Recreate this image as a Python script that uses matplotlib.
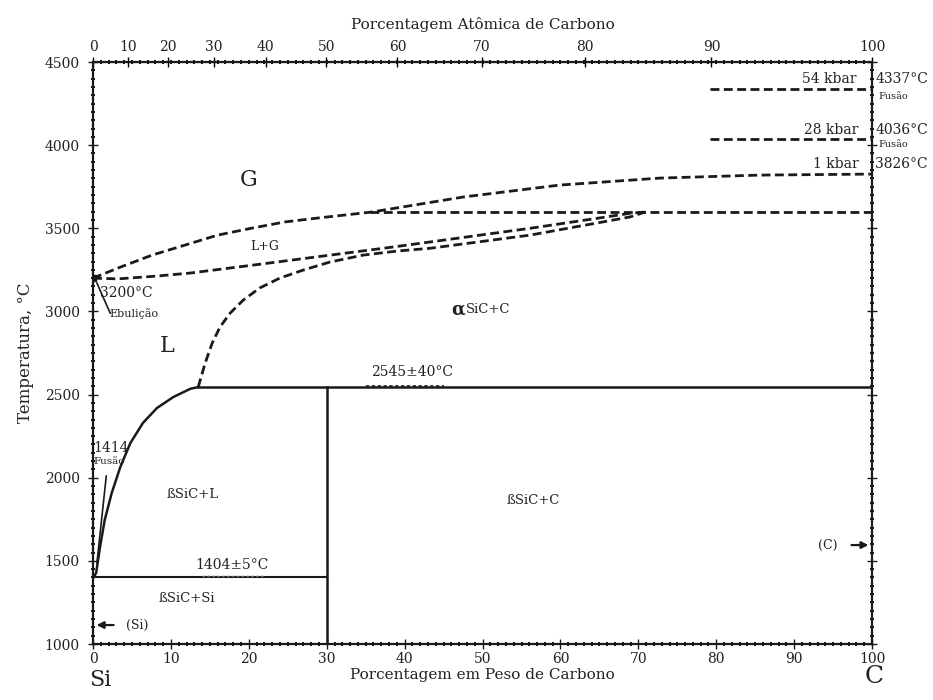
import numpy as np
import matplotlib
matplotlib.use('Agg')
import matplotlib.pyplot as plt
from matplotlib.ticker import MultipleLocator, FixedLocator

plt.rcParams['font.family'] = ['DejaVu Serif']
plt.rcParams['mathtext.fontset'] = 'dejavuserif'

# liquidus Si side (solid): wt% C, temperature
liq_si_x = [0.1, 0.4, 0.9, 1.5, 2.4, 3.5, 4.8, 6.4, 8.2, 10.3, 12.5, 13.5]
liq_si_t = [1404, 1427, 1583, 1746, 1908, 2064, 2209, 2329, 2419, 2485, 2535, 2545]

# liquidus SiC + L (dashed)
liq_sic_x = [13.5, 14.4, 15.3, 16.3, 17.6, 19.3, 21.4, 24.0, 27.0, 30.4, 34.7,
             39.0, 43.3, 56.1, 64.7, 68.9, 70.9]
liq_sic_t = [2545, 2690, 2810, 2906, 2990, 3069, 3141, 3201, 3249, 3297, 3339,
             3363, 3380, 3459, 3532, 3568, 3598]

# lower boundary of L+G
lg_low_x = [0, 3.2, 8.0, 12.5, 21.1, 29.5, 38.1, 43.3, 56.1, 64.7, 68.9, 70.9]
lg_low_t = [3200, 3196, 3212, 3231, 3282, 3333, 3385, 3418, 3500, 3560, 3590, 3598]

# upper boundary of L+G / 1 kbar curve
lg_up_x = [0, 3.2, 7.6, 11.8, 16.0, 20.4, 24.6, 28.9, 35.8, 47.5, 59.9, 72.8, 85.6, 100]
lg_up_t = [3200, 3261, 3339, 3399, 3459, 3501, 3538, 3562, 3598, 3688, 3760, 3802, 3820, 3826]

# horizontal lines
t_peritectic = 2545
t_eutectic = 1404
t_three = 3600
x_sic = 30
kbar_x = [79.2, 100]
kbar_t = [4337, 4036]

fig = plt.figure(figsize=(9.33, 7.0), dpi=100)
ax = fig.add_axes([0.0997, 0.08, 0.835, 0.8314])
k = '#1a1a1a'
dash = (3.2, 1.6)

ax.plot(liq_si_x, liq_si_t, color=k, lw=1.8)
ax.plot(liq_sic_x, liq_sic_t, color=k, lw=2.0, ls=(0, dash))
ax.plot(lg_low_x, lg_low_t, color=k, lw=2.0, ls=(0, dash))
ax.plot(lg_up_x, lg_up_t, color=k, lw=2.0, ls=(0, dash))
ax.plot([35.5, 100], [t_three, t_three], color=k, lw=2.0, ls=(0, dash))
for t in kbar_t:
    ax.plot(kbar_x, [t, t], color=k, lw=2.0, ls=(0, dash))

ax.plot([13.5, 100], [t_peritectic, t_peritectic], color=k, lw=1.8)
ax.plot([0, x_sic], [t_eutectic, t_eutectic], color=k, lw=1.5)
ax.plot([x_sic, x_sic], [1000, t_peritectic], color=k, lw=1.8)
ax.plot([35, 45], [t_peritectic + 8, t_peritectic + 8], color=k, lw=1.2, ls=(0, (2, 1.5)))
ax.plot([14, 22], [t_eutectic + 7, t_eutectic + 7], color='#666666', lw=1.0, ls=(0, (2, 1.5)))

# pointer lines
ax.plot([0.5, 1.7], [1487, 2010], color=k, lw=1.2)
ax.plot([0.5, 2.2], [3171, 2990], color=k, lw=1.2)
ax.plot([0], [3200], marker='s', ms=4, color=k)

# arrows
ax.annotate('', xy=(0.1, 1114), xytext=(3.0, 1114),
            arrowprops=dict(arrowstyle='-|>', color=k, lw=1.6, mutation_scale=10))
ax.annotate('', xy=(99.9, 1595), xytext=(97.0, 1595),
            arrowprops=dict(arrowstyle='-|>', color=k, lw=1.6, mutation_scale=10))

# labels
tc = '#222222'
ax.text(20.0, 3790, 'G', fontsize=16, color=tc, ha='center', va='center')
ax.text(22.0, 3390, 'L+G', fontsize=9, color=tc, ha='center', va='center')
ax.text(0.9, 3112, '3200°C', fontsize=10, color=tc, ha='left', va='center')
ax.text(2.1, 2985, 'Ebulição', fontsize=8, color=tc, ha='left', va='center')
ax.text(9.5, 2790, 'L', fontsize=16, color=tc, ha='center', va='center')
ax.text(47.0, 3010, r'$\mathbf{\alpha}$', fontsize=13, color=tc, ha='center', va='center')
ax.text(47.9, 3010, 'SiC+C', fontsize=9.5, color=tc, ha='left', va='center')
ax.text(41.0, 2635, '2545±40°C', fontsize=10, color=tc, ha='center', va='center')
ax.text(0.1, 2180, '1414', fontsize=10, color=tc, ha='left', va='center')
ax.text(0.1, 2100, 'Fusão', fontsize=7.5, color=tc, ha='left', va='center')
ax.text(12.8, 1900, 'ßSiC+L', fontsize=9.5, color=tc, ha='center', va='center')
ax.text(17.8, 1478, '1404±5°C', fontsize=10, color=tc, ha='center', va='center')
ax.text(12.0, 1275, 'ßSiC+Si', fontsize=9.5, color=tc, ha='center', va='center')
ax.text(4.2, 1114, '(Si)', fontsize=9, color=tc, ha='left', va='center')
ax.text(56.5, 1860, 'ßSiC+C', fontsize=9.5, color=tc, ha='center', va='center')
ax.text(95.5, 1595, '(C)', fontsize=9, color=tc, ha='right', va='center')

ax.text(98.0, 4395, '54 kbar', fontsize=10, color=tc, ha='right', va='center')
ax.text(98.3, 4090, '28 kbar', fontsize=10, color=tc, ha='right', va='center')
ax.text(98.3, 3888, '1 kbar', fontsize=10, color=tc, ha='right', va='center')
ax.text(100.4, 4395, '4337°C', fontsize=10, color=tc, ha='left', va='center')
ax.text(100.4, 4090, '4036°C', fontsize=10, color=tc, ha='left', va='center')
ax.text(100.4, 3888, '3826°C', fontsize=10, color=tc, ha='left', va='center')
ax.text(100.8, 4290, 'Fusão', fontsize=7, color=tc, ha='left', va='center')
ax.text(100.8, 4005, 'Fusão', fontsize=7, color=tc, ha='left', va='center')

# axes
ax.set_xlim(0, 100)
ax.set_ylim(1000, 4500)
ax.xaxis.set_major_locator(MultipleLocator(10))
ax.xaxis.set_minor_locator(MultipleLocator(1))
ax.yaxis.set_major_locator(MultipleLocator(500))
ax.yaxis.set_minor_locator(MultipleLocator(50))
ax.tick_params(which='major', direction='inout', length=7, width=1.0,
               labelsize=10, colors=k, right=True)
ax.tick_params(which='minor', direction='inout', length=3, width=1.3, right=True)
ax.tick_params(axis='x', labelcolor=tc, pad=2)
ax.tick_params(axis='y', labelcolor=tc, pad=6)
for s in ax.spines.values():
    s.set_linewidth(1.6)
    s.set_color(k)

ax.set_xlabel('Porcentagem em Peso de Carbono', fontsize=11, color=tc, labelpad=2)
ax.set_ylabel('Temperatura, °C', fontsize=12, color=tc, labelpad=8)


def wt2at(w):
    w = np.clip(np.asarray(w, dtype=float), 1e-9, 100 - 1e-9)
    a = w / 12.011
    b = (100 - w) / 28.086
    return 100 * a / (a + b)


def at2wt(a):
    a = np.clip(np.asarray(a, dtype=float), 1e-9, 100 - 1e-9)
    m = a * 12.011
    n = (100 - a) * 28.086
    return 100 * m / (m + n)


top = ax.secondary_xaxis('top', functions=(wt2at, at2wt))
top.xaxis.set_major_locator(FixedLocator(np.arange(0, 101, 10)))
top.xaxis.set_minor_locator(FixedLocator(wt2at(np.arange(0, 101, 1))))
top.tick_params(which='major', direction='inout', length=7, width=1.0,
                labelsize=10, labelcolor=tc, pad=2)
top.tick_params(which='minor', direction='inout', length=3, width=1.3)
top.set_xlabel('Porcentagem Atômica de Carbono', fontsize=11, color=tc, labelpad=8)

fig.text(0.107, 0.028, 'Si', fontsize=16, color=tc, ha='center', va='center')
fig.text(0.937, 0.033, 'C', fontsize=18, color=tc, ha='center', va='center')

fig.savefig('out.png', dpi=100, facecolor='white')
